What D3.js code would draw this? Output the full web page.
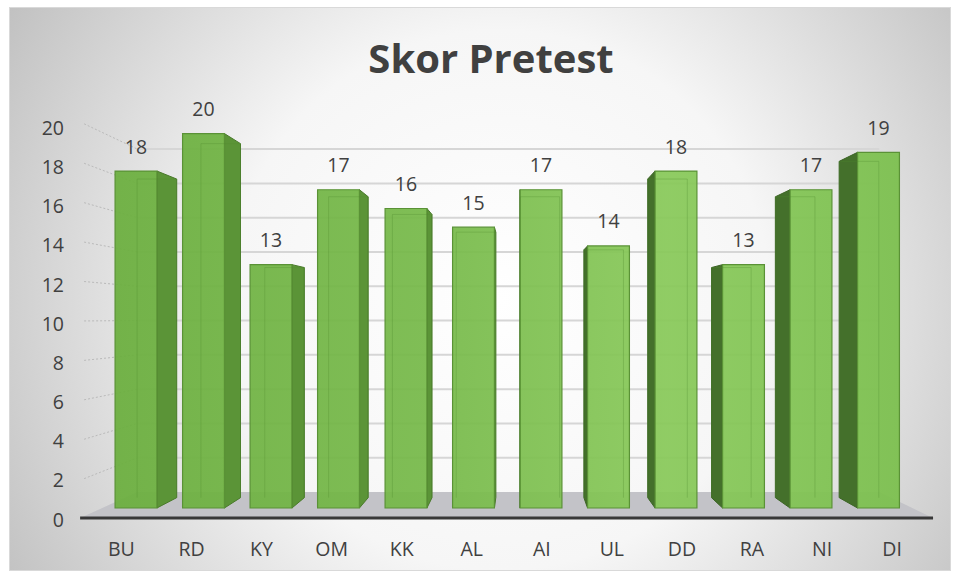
<!DOCTYPE html>
<html>
<head>
<meta charset="utf-8">
<script src="https://cdn.jsdelivr.net/npm/d3@7"></script>
<style>
  body { margin: 0; background: #fff; }
  svg text { font-family: "Open Sans", sans-serif; }
</style>
</head>
<body>
<div id="chart"></div>
<script>
// Données
const categories = ['BU', 'RD', 'KY', 'OM', 'KK', 'AL', 'AI', 'UL', 'DD', 'RA', 'NI', 'DI'];
const scores = [18, 20, 13, 17, 16, 15, 17, 14, 18, 13, 17, 19];
const yTicks = [0, 2, 4, 6, 8, 10, 12, 14, 16, 18, 20];

const W = 961, H = 579;

// Perspective : point de fuite et profondeurs
const vp = [520, 318];
const depth = { floorFront: 1.053, barFront: 1, barBack: 0.9456, wall: 0.916 };

function proj(x, y, f) {
    return [vp[0] + (x - vp[0]) * f, vp[1] + (y - vp[1]) * f];
}

const x = d3.scaleBand()
    .domain(categories)
    .range([102.25, 912.25])
    .paddingInner(0.38)
    .paddingOuter(0.19);

const y = d3.scaleLinear()
    .domain([0, 20])
    .range([508, 133.6]);

const svg = d3.select('#chart')
    .append('svg')
    .attr('width', W)
    .attr('height', H);

const defs = svg.append('defs');

// Fond dégradé radial
const bg = defs.append('radialGradient')
    .attr('id', 'bg')
    .attr('gradientUnits', 'userSpaceOnUse')
    .attr('cx', 500).attr('cy', 300).attr('r', 600);
bg.append('stop').attr('offset', '0').attr('stop-color', '#ffffff');
bg.append('stop').attr('offset', '0.45').attr('stop-color', '#f6f6f6');
bg.append('stop').attr('offset', '1').attr('stop-color', '#bcbcbc');

// Dégradé des faces avant
const front = defs.append('linearGradient')
    .attr('id', 'front')
    .attr('gradientUnits', 'userSpaceOnUse')
    .attr('x1', 100).attr('x2', 910).attr('y1', 0).attr('y2', 0);
front.append('stop').attr('offset', '0').attr('stop-color', '#6aae3d');
front.append('stop').attr('offset', '0.4').attr('stop-color', '#76b949');
front.append('stop').attr('offset', '0.7').attr('stop-color', '#88c959');
front.append('stop').attr('offset', '1').attr('stop-color', '#7abf4c');

svg.append('rect')
    .attr('x', 9.5).attr('y', 7.5)
    .attr('width', 941).attr('height', 563)
    .attr('fill', 'url(#bg)')
    .attr('stroke', '#d9d9d9');

// Titre
svg.append('text')
    .attr('x', 491)
    .attr('y', 73)
    .attr('text-anchor', 'middle')
    .attr('font-size', 40)
    .attr('font-weight', 'bold')
    .attr('fill', '#404040')
    .text('Skor Pretest');

const x0 = x.range()[0], x1 = x.range()[1];

// Sol
const floorPts = [
    proj(x0, y(0), depth.floorFront), proj(x1, y(0), depth.floorFront),
    proj(x1, y(0), depth.wall), proj(x0, y(0), depth.wall)
];
svg.append('polygon')
    .attr('points', floorPts.map(p => p.join(',')).join(' '))
    .attr('fill', '#c3c3c8');

// Quadrillage du mur du fond
const grid = svg.append('g');
yTicks.filter(v => v > 0).forEach(v => {
    const a = proj(x0, y(v), depth.wall), b = proj(x1, y(v), depth.wall);
    grid.append('line')
        .attr('x1', a[0]).attr('y1', a[1]).attr('x2', b[0]).attr('y2', b[1])
        .attr('stroke', '#d6d6d6')
        .attr('stroke-width', 2);
    // mur latéral gauche en pointillés
    const c = proj(x0, y(v), depth.floorFront);
    grid.append('line')
        .attr('x1', c[0] + 4).attr('y1', c[1]).attr('x2', a[0]).attr('y2', a[1])
        .attr('stroke', '#bababa')
        .attr('stroke-width', 1)
        .attr('stroke-dasharray', '2,2');
});

// Barres 3D
const bars = svg.append('g');
const poly = pts => pts.map(p => p.join(',')).join(' ');
categories.forEach((cat, i) => {
    const l = x(cat), r = x(cat) + x.bandwidth();
    const t = y(scores[i]), b = y(0);
    const F = [[l, t], [r, t], [r, b], [l, b]].map(p => proj(p[0], p[1], depth.barFront));
    const B = [[l, t], [r, t], [r, b], [l, b]].map(p => proj(p[0], p[1], depth.barBack));
    const g = bars.append('g');

    // face latérale visible
    if (r < vp[0]) {
        g.append('polygon').attr('points', poly([F[1], B[1], B[2], F[2]]))
            .attr('fill', '#5b9437').attr('stroke', '#4a7a2c').attr('stroke-width', 1);
    } else if (l > vp[0]) {
        g.append('polygon').attr('points', poly([F[0], B[0], B[3], F[3]]))
            .attr('fill', '#44702b').attr('stroke', '#3c6426').attr('stroke-width', 1);
    }

    // face avant (légèrement transparente)
    g.append('polygon').attr('points', poly(F))
        .attr('fill', 'url(#front)').attr('fill-opacity', 0.93)
        .attr('stroke', '#5a9236').attr('stroke-width', 1.2);

    // arêtes cachées vues par transparence
    g.append('polyline').attr('points', poly([B[3], B[0], B[1], B[2]]))
        .attr('fill', 'none').attr('stroke', '#4f8a2e').attr('stroke-opacity', 0.3);
});

// Axe (bord avant du sol)
svg.append('line')
    .attr('x1', floorPts[0][0]).attr('y1', floorPts[0][1])
    .attr('x2', floorPts[1][0]).attr('y2', floorPts[1][1])
    .attr('stroke', '#383838')
    .attr('stroke-width', 3);

// Étiquettes des valeurs
svg.append('g').selectAll('text')
    .data(categories)
    .enter().append('text')
    .attr('x', d => x(d) + x.bandwidth() / 2)
    .attr('y', (d, i) => y(scores[i]) - 24.5)
    .attr('dy', '0.36em')
    .attr('text-anchor', 'middle')
    .attr('font-size', 19.5)
    .attr('fill', '#404040')
    .text((d, i) => scores[i]);

// Étiquettes de l'axe Y
svg.append('g').selectAll('text')
    .data(yTicks)
    .enter().append('text')
    .attr('x', 64)
    .attr('y', d => proj(x0, y(d), 1.0457)[1] + 2.8)
    .attr('dy', '0.36em')
    .attr('text-anchor', 'end')
    .attr('font-size', 19.5)
    .attr('fill', '#404040')
    .text(d => d);

// Étiquettes des catégories
svg.append('g').selectAll('text')
    .data(categories)
    .enter().append('text')
    .attr('x', d => vp[0] + (x(d) + x.bandwidth() / 2 - vp[0]) * 1.038)
    .attr('y', 556)
    .attr('text-anchor', 'middle')
    .attr('font-size', 19.5)
    .attr('fill', '#404040')
    .text(d => d);
</script>
</body>
</html>
